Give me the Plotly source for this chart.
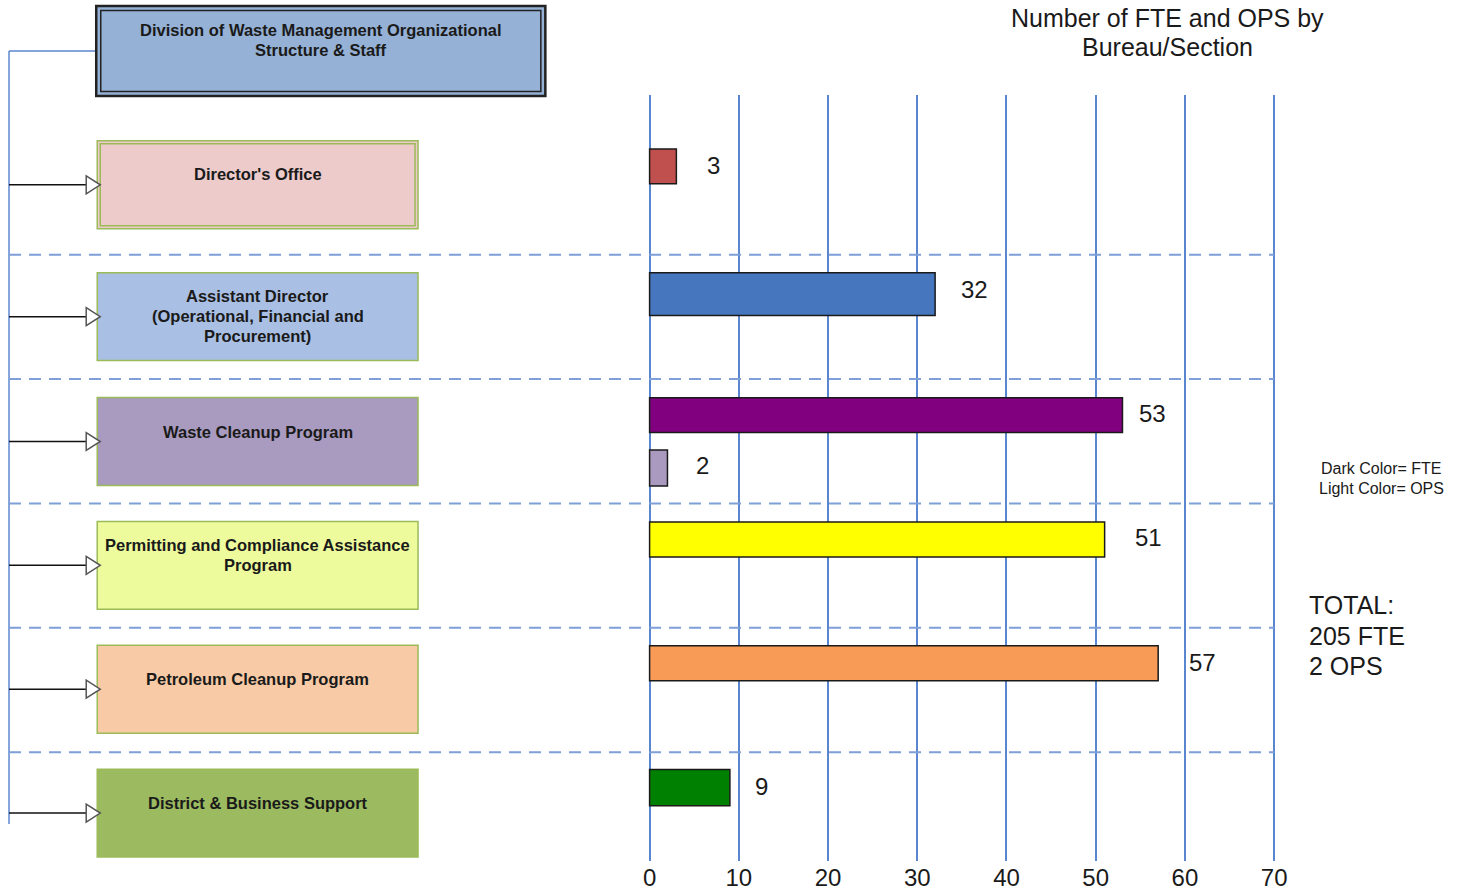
import plotly.graph_objects as go

W, H = 1458, 891

# ---------------- data ----------------
header_text = "Division of Waste Management Organizational<br>Structure & Staff"
sections = [
    "Director's Office",
    "Assistant Director<br>(Operational, Financial and<br>Procurement)",
    "Waste Cleanup Program",
    "Permitting and Compliance Assistance<br>Program",
    "Petroleum Cleanup Program",
    "District & Business Support",
]
fte = [3, 32, 53, 51, 57, 9]
ops = [None, None, 2, None, None, None]
x_ticks = [0, 10, 20, 30, 40, 50, 60, 70]
title_text = "Number of FTE and OPS by<br>Bureau/Section"
key_text = "Dark Color= FTE<br>Light Color= OPS"
total_text = "TOTAL:<br>205 FTE<br>2 OPS"

# ---------------- styles ----------------
fte_colors = ["#C0504D", "#4677BE", "#800080", "#FFFF00", "#F79B57", "#008000"]
ops_colors = ["#E6B9B8", "#B9CDE5", "#AB9AC0", "#FFFFA0", "#FAC090", "#90D090"]
box_fills = ["#ECCBCA", "#A9BFE3", "#A99ABF", "#EEFB9C", "#F8CBA6", "#9CBB60"]
label_shift = [29, 24, 15, 28, 29, 23]
label_yshift = [1, 5, 2, 2, 1, 1]
ops_shift = 27
fte_offset = [0.29, 0.317, 0.29, 0.29, 0.285, 0.285]
fte_width = [0.28, 0.345, 0.28, 0.28, 0.28, 0.29]
ops_offset = 0.715
ops_width = 0.29

FONT = "Liberation Sans, Arial, sans-serif"
GRID = "#5A86CF"
DASH = "#7E9FD8"
TXT = "#1a1a1a"

# horizontal calibration of the rendered page (screen = OFF + SCALE * page)
OFF, SCALE = 3.0, 0.99


def px(x):
    return (x - OFF) / SCALE / W


def py(y):
    return 1 - y / H


# plot area (screen pixels)
X0, X1 = 649, 1272
Y0, Y1 = 95, 862
SEC_TOP, SEC_H = 130.5, 124.5
PAD = 0.5  # axis units beyond 0 and 70 so the end gridlines are drawn
unit = (px(X1) - px(X0)) / 70

fig = go.Figure()

fte_y = [i + fte_offset[i] for i in range(len(fte))]
fig.add_trace(go.Bar(
    x=fte, y=fte_y, orientation="h", width=fte_width,
    marker=dict(color=fte_colors, line=dict(color=TXT, width=1.5)),
    hoverinfo="x", showlegend=False,
))

ops_x = [v for v in ops if v is not None]
ops_y = [i + ops_offset for i, v in enumerate(ops) if v is not None]
ops_c = [ops_colors[i] for i, v in enumerate(ops) if v is not None]
fig.add_trace(go.Bar(
    x=ops_x, y=ops_y, orientation="h", width=ops_width,
    marker=dict(color=ops_c, line=dict(color=TXT, width=1.5)),
    hoverinfo="x", showlegend=False,
))

annotations = []
for i, v in enumerate(fte):
    annotations.append(dict(
        x=v, y=fte_y[i], xref="x", yref="y", text=str(v), showarrow=False,
        xanchor="left", yanchor="middle", xshift=label_shift[i], yshift=label_yshift[i],
        font=dict(family=FONT, size=24, color=TXT),
    ))
for v, yy in zip(ops_x, ops_y):
    annotations.append(dict(
        x=v, y=yy, xref="x", yref="y", text=str(v), showarrow=False,
        xanchor="left", yanchor="middle", xshift=ops_shift, yshift=2,
        font=dict(family=FONT, size=24, color=TXT),
    ))


def text_lines(text, cx, first_cy, spacing, size, bold=False, anchor="center"):
    for j, line in enumerate(text.split("<br>")):
        annotations.append(dict(
            x=px(cx), y=py(first_cy + j * spacing), xref="paper", yref="paper",
            text=("<b>" + line + "</b>") if bold else line,
            showarrow=False, xanchor=anchor, yanchor="middle", align=anchor,
            font=dict(family=FONT, size=size, color=TXT),
        ))


shapes = []

# vertical connector (blue)
shapes.append(dict(type="line", xref="paper", yref="paper",
                   x0=px(10), x1=px(10), y0=py(51), y1=py(825),
                   line=dict(color="#5B87CF", width=1.5)))
shapes.append(dict(type="line", xref="paper", yref="paper",
                   x0=px(10), x1=px(98), y0=py(51), y1=py(51),
                   line=dict(color="#5B87CF", width=1.5)))

# dashed separators
for k in range(1, len(sections)):
    yy = SEC_TOP + SEC_H * k
    shapes.append(dict(type="line", xref="paper", yref="paper",
                       x0=px(10), x1=px(X1), y0=py(yy), y1=py(yy),
                       line=dict(color=DASH, width=2, dash="12px,8px")))

# header box (double dark border)
shapes.append(dict(type="rect", xref="paper", yref="paper",
                   x0=px(97), x1=px(545), y0=py(6), y1=py(96),
                   fillcolor="#95B1D5", line=dict(color="#222", width=2.5)))
shapes.append(dict(type="rect", xref="paper", yref="paper",
                   x0=px(101.5), x1=px(540.5), y0=py(10.5), y1=py(91.5),
                   fillcolor="rgba(0,0,0,0)", line=dict(color="#222", width=1.5)))
text_lines(header_text, 321, 30, 20, 16.5, bold=True)

# section boxes
box_tops = [141, 273, 398, 522, 646, 770]
first_line = [33, 23, 34, 24, 34, 34]
box_h = 88
for i, name in enumerate(sections):
    t = box_tops[i]
    b = t + box_h
    shapes.append(dict(type="rect", xref="paper", yref="paper",
                       x0=px(98), x1=px(418), y0=py(t), y1=py(b),
                       fillcolor=box_fills[i], line=dict(color="#9BBB59", width=1.5)))
    if i == 0:
        shapes.append(dict(type="rect", xref="paper", yref="paper",
                           x0=px(101), x1=px(415), y0=py(t + 3), y1=py(b - 3),
                           fillcolor="rgba(0,0,0,0)", line=dict(color="#9BBB59", width=1.5)))
    text_lines(name, 258, t + first_line[i], 20, 16.5, bold=True)
    cy = t + box_h / 2
    shapes.append(dict(type="line", xref="paper", yref="paper",
                       x0=px(10), x1=px(87), y0=py(cy), y1=py(cy),
                       line=dict(color="#111", width=1.5)))
    shapes.append(dict(type="path", xref="paper", yref="paper",
                       path="M {:.5f} {:.5f} L {:.5f} {:.5f} L {:.5f} {:.5f} Z".format(
                           px(87), py(cy - 9), px(101), py(cy), px(87), py(cy + 9)),
                       fillcolor="white", line=dict(color="#555", width=1.5)))

# right-hand texts
text_lines(title_text, 1166, 18, 29, 25)
text_lines(key_text, 1379, 469, 20, 16)
text_lines(total_text, 1305, 606, 30.5, 25, anchor="left")

fig.update_layout(
    width=W, height=H, autosize=False,
    margin=dict(l=0, r=0, t=0, b=0, pad=0),
    paper_bgcolor="white", plot_bgcolor="white",
    barmode="overlay",
    shapes=shapes, annotations=annotations,
    xaxis=dict(
        domain=[px(X0) - PAD * unit, px(X1) + PAD * unit], range=[-PAD, 70 + PAD],
        tickvals=x_ticks, ticktext=[str(t) for t in x_ticks],
        showgrid=True, gridcolor=GRID, gridwidth=1.5,
        zeroline=False, showline=False, ticks="",
        tickfont=dict(family=FONT, size=24, color=TXT),
        fixedrange=True,
    ),
    yaxis=dict(
        domain=[py(Y1), py(Y0)],
        range=[(Y1 - SEC_TOP) / SEC_H, (Y0 - SEC_TOP) / SEC_H],
        visible=False, showgrid=False, zeroline=False, fixedrange=True,
    ),
    showlegend=False,
)

fig.write_html("out.html", config={"responsive": False})
